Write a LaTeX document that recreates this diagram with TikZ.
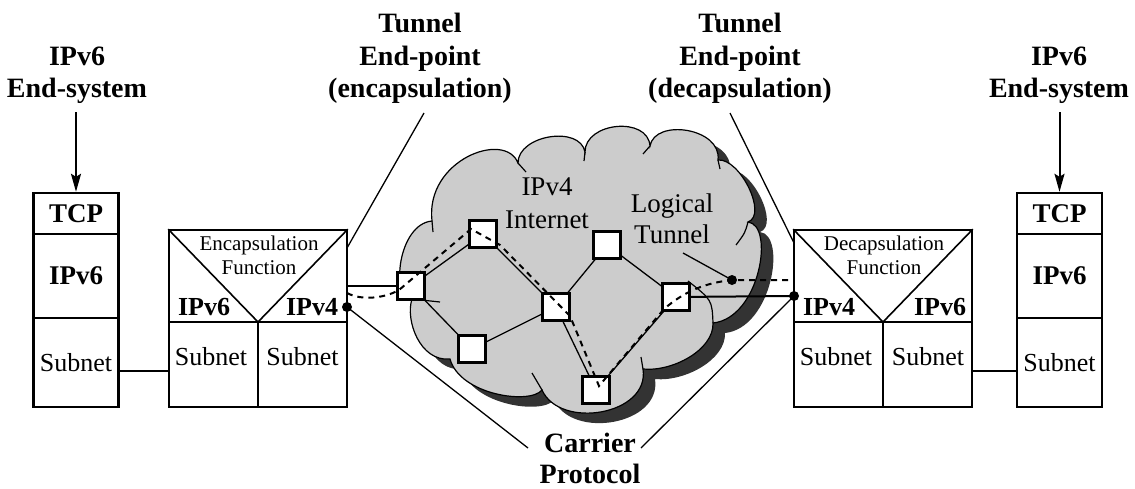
\documentclass[tikz,border=0pt]{standalone}
\usepackage{fontspec}
\setmainfont{Liberation Serif}
\usetikzlibrary{arrows.meta}
\definecolor{cloudgray}{HTML}{CCCCCC}
\definecolor{shadowgray}{HTML}{333333}
\tikzset{
  headtxt/.style={font=\fontsize{28}{32}\selectfont\bfseries, inner sep=0pt, anchor=base},
  boldtxt/.style={font=\fontsize{26}{30}\selectfont\bfseries, inner sep=0pt, anchor=base},
  subtxt/.style={font=\fontsize{26}{30}\selectfont, inner sep=0pt, anchor=base},
  smalltxt/.style={font=\fontsize{21}{24}\selectfont, inner sep=0pt, anchor=base},
  cloudtxt/.style={font=\fontsize{27}{31}\selectfont, inner sep=0pt, anchor=base},
  stackbox/.style={draw, line width=2.4pt, minimum width=85pt, inner sep=0pt},
  funcbox/.style={draw, line width=1.6pt, minimum width=178pt, minimum height=177pt, inner sep=0pt},
  router/.style={draw, line width=2.2pt, fill=white, minimum size=27pt, inner sep=0pt},
  link/.style={line width=1.3pt},
  thinline/.style={line width=1.3pt},
  tunnel/.style={line width=2pt, dash pattern=on 6pt off 5pt},
  dotc/.style={circle, fill=black, inner sep=0pt, minimum size=10pt},
  arr/.style={line width=2pt, -{Stealth[length=18pt,width=10pt,inset=3pt]}},
  cloudp/.style={insert path={
    (412,299) .. controls (390,298) and (398,224) .. (432,221)
    .. controls (425,160) and (505,130) .. (518,163)
    .. controls (518,135) and (580,125) .. (585,152)
    .. controls (585,122) and (648,116) .. (650,146)
    .. controls (655,118) and (722,128) .. (718,160)
    .. controls (740,158) and (768,215) .. (748,222)
    .. controls (775,225) and (760,318) .. (713,323)
    .. controls (714,350) and (672,372) .. (643,369)
    .. controls (650,415) and (560,430) .. (542,390)
    .. controls (530,405) and (460,395) .. (450,359)
    .. controls (420,362) and (405,320) .. (412,299) -- cycle}},
}
\begin{document}
\begin{tikzpicture}[x=1pt,y=-1pt]
\useasboundingbox (0,0) rectangle (1135,488);

% ---------- cloud ----------
\begin{scope}
  \clip (800,47) -- (1135,47) -- (1135,488) -- (300,488) -- (300,413) -- cycle;
  \fill[shadowgray, shift={(12,10)}, cloudp];
\end{scope}
\filldraw[fill=cloudgray, draw=black, line width=1.2pt, cloudp];
\draw[line width=1.2pt]
  (432,221) -- (433,232)
  (518,163) -- (526,172)
  (585,152) -- (584,161)
  (650,146) -- (643,154)
  (718,160) -- (720,169)
  (748,222) .. controls (745,233) .. (736,245)
  (713,323) .. controls (712,300) .. (688,281)
  (643,369) -- (641,357)
  (542,390) -- (532,373)
  (412,299) -- (440,302);

\node[cloudtxt] (inet1) at (547,195) {IPv4};
\node[cloudtxt] (inet2) at (547,228) {Internet};
\node[cloudtxt] (ltun1) at (672,212) {Logical};
\node[cloudtxt] (ltun2) at (672,243) {Tunnel};

% ---------- routers ----------
\coordinate (r1c) at (411,286);
\coordinate (r2c) at (483,234);
\coordinate (r3c) at (607,245);
\coordinate (r4c) at (556,307);
\coordinate (r5c) at (472,349);
\coordinate (r6c) at (596,390);
\coordinate (r7c) at (676,297);
\draw[link] (r1c) -- (r2c) -- (r4c) -- (r3c) -- (r7c) -- (r6c) -- (r4c) -- (r5c) -- (r1c);
\node[router] (r1) at (r1c) {};
\node[router] (r2) at (r2c) {};
\node[router] (r3) at (r3c) {};
\node[router] (r4) at (r4c) {};
\node[router] (r5) at (r5c) {};
\node[router] (r6) at (r6c) {};
\node[router] (r7) at (r7c) {};

% ---------- end systems ----------
\node[stackbox, minimum height=41pt, font=\fontsize{27}{30}\selectfont\bfseries] (ltcp) at (76,213.5) {TCP};
\node[stackbox, minimum height=84pt, font=\fontsize{27}{30}\selectfont\bfseries] (lip) at (76,276) {IPv6};
\node[stackbox, minimum height=89pt, font=\fontsize{26}{30}\selectfont] (lsub) at (76,362.5) {Subnet};
\node[stackbox, minimum height=41pt, font=\fontsize{27}{30}\selectfont\bfseries] (rtcp) at (1059.5,213.5) {TCP};
\node[stackbox, minimum height=84pt, font=\fontsize{27}{30}\selectfont\bfseries] (rip) at (1059.5,276) {IPv6};
\node[stackbox, minimum height=89pt, font=\fontsize{26}{30}\selectfont] (rsub) at (1059.5,362.5) {Subnet};

\node[headtxt] (lsys1) at (77,65) {IPv6};
\node[headtxt] (lsys2) at (77,97) {End-system};
\node[headtxt] (rsys1) at (1059,65) {IPv6};
\node[headtxt] (rsys2) at (1059,97) {End-system};
\draw[arr, shorten <=9pt] (lsys2.south -| ltcp.north) -- (ltcp.north);
\draw[arr, shorten <=9pt] (rsys2.south -| rtcp.north) -- (rtcp.north);

% ---------- encapsulation box ----------
\node[funcbox] (encap) at (258,318.5) {};
\coordinate (emid) at (258,322);
\draw[line width=1.6pt] (encap.north west) -- (emid) -- (encap.north east);
\draw[line width=1.8pt] (encap.west |- emid) -- (encap.east |- emid);
\draw[line width=1.6pt] (emid) -- (emid |- encap.south);
\node[smalltxt] (enc1) at (259,250) {Encapsulation};
\node[smalltxt] (enc2) at (259,274) {Function};
\node[boldtxt] (enc6) at (204,315) {IPv6};
\node[boldtxt] (enc4) at (312,315) {IPv4};
\node[subtxt] (encs1) at (211,365) {Subnet};
\node[subtxt] (encs2) at (302.5,365) {Subnet};

% ---------- decapsulation box ----------
\node[funcbox] (decap) at (883,318.5) {};
\coordinate (dmid) at (883,322);
\draw[line width=1.6pt] (decap.north west) -- (dmid) -- (decap.north east);
\draw[line width=1.8pt] (decap.west |- dmid) -- (decap.east |- dmid);
\draw[line width=1.6pt] (dmid) -- (dmid |- decap.south);
\node[smalltxt] (dec1) at (884,250) {Decapsulation};
\node[smalltxt] (dec2) at (884,274) {Function};
\node[boldtxt] (dec4) at (829,315) {IPv4};
\node[boldtxt] (dec6) at (940,315) {IPv6};
\node[subtxt] (decs1) at (836,365) {Subnet};
\node[subtxt] (decs2) at (928,365) {Subnet};

% ---------- subnet links ----------
\draw[thinline] ([yshift=-8.5pt]lsub.east) -- ([yshift=-8.5pt]lsub.east -| encap.west);
\draw[thinline] ([yshift=-8.5pt]rsub.west) -- ([yshift=-8.5pt]rsub.west -| decap.east);

% ---------- dots and carrier links ----------
\node[dotc] (edot) at (347,307) {};
\node[dotc] (ddot) at (794,296) {};
\node[dotc] (tdot) at (732,280) {};
\draw[link] (r1.west) -- (r1.west -| encap.east);
\draw[line width=2pt] (r7) -- (ddot.center);

% ---------- tunnel (dashed) ----------
\coordinate (t0) at (347,293);
\coordinate (t1) at (399,290);
\coordinate (t2) at (471,229);
\coordinate (t2b) at (500,245);
\coordinate (t3) at (570,316);
\coordinate (t4) at (599,386);
\coordinate (t5) at (664,309);
\coordinate (t7) at (794,280);
\draw[tunnel] (t0) .. controls (362,301) and (385,298) .. (t1) -- (t2) -- (t2b) -- (t3) -- (t4) -- (t5)
  .. controls (685,291) and (705,283) .. (tdot.center) -- (t7);
\coordinate (ltp) at (683,253);
\draw[thinline] (ltp) -- (tdot.center);

% ---------- top labels ----------
\node[headtxt] (tl1) at (420,32) {Tunnel};
\node[headtxt] (tl2) at (420,65) {End-point};
\node[headtxt] (tl3) at (420,97) {(encapsulation)};
\node[headtxt] (tr1) at (740,32) {Tunnel};
\node[headtxt] (tr2) at (740,65) {End-point};
\node[headtxt] (tr3) at (740,97) {(decapsulation)};
\coordinate (tlp) at (424,113);
\coordinate (tle) at (347,248);
\coordinate (trp) at (730,113);
\coordinate (tre) at (794,243);
\draw[thinline] (tlp) -- (tle);
\draw[thinline] (trp) -- (tre);

% ---------- carrier protocol ----------
\node[headtxt] (cp1) at (590,452) {Carrier};
\node[headtxt] (cp2) at (590,483) {Protocol};
\coordinate (cpl) at (528,448);
\coordinate (cpr) at (641,448);
\draw[thinline] (edot.center) -- (cpl);
\draw[thinline] (cpr) -- (ddot.center);
\end{tikzpicture}
\end{document}
